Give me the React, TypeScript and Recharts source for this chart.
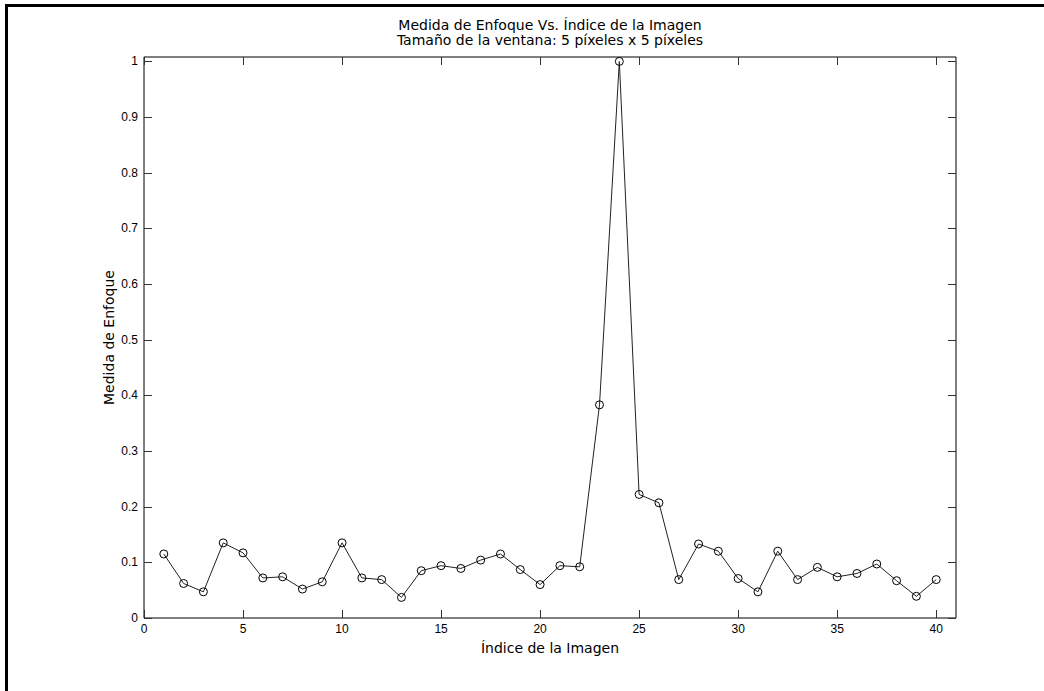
import React from "react";
import {
  LineChart,
  Line,
  XAxis,
  YAxis,
  Label,
} from "recharts";

// focus measure for each image index (window 5x5 px)
const imageIndex = [
  1, 2, 3, 4, 5, 6, 7, 8, 9, 10, 11, 12, 13, 14, 15, 16, 17, 18, 19, 20,
  21, 22, 23, 24, 25, 26, 27, 28, 29, 30, 31, 32, 33, 34, 35, 36, 37, 38, 39, 40,
];
const focusMeasure = [
  0.115, 0.062, 0.047, 0.135, 0.117, 0.072, 0.074, 0.052, 0.065, 0.135,
  0.072, 0.069, 0.037, 0.085, 0.094, 0.089, 0.104, 0.115, 0.087, 0.06,
  0.094, 0.092, 0.383, 1.0, 0.222, 0.207, 0.069, 0.133, 0.12, 0.071,
  0.047, 0.12, 0.069, 0.091, 0.074, 0.08, 0.097, 0.067, 0.039, 0.069,
];

const xTicks = [0, 5, 10, 15, 20, 25, 30, 35, 40];
const yTicks = [0, 0.1, 0.2, 0.3, 0.4, 0.5, 0.6, 0.7, 0.8, 0.9, 1];

const titleLines = [
  "Medida de Enfoque Vs. Índice de la Imagen",
  "Tamaño de la ventana: 5 píxeles x 5 píxeles",
];
const xLabel = "Índice de la Imagen";
const yLabel = "Medida de Enfoque";

const data = imageIndex.map((idx, i) => ({ idx, value: focusMeasure[i] }));

const TICK_FONT = "'Liberation Sans', Arial, sans-serif";
const TEXT_FONT = "'DejaVu Sans', Verdana, sans-serif";
const TICK_LEN = 8;
const TICK_COLOR = "#333";

// plot box edges, follow from the chart margins + axis sizes below
const BOX = { left: 144, right: 956, top: 57, bottom: 618 };

const px = (v: number) => Math.round(v) + 0.5;

// each x tick draws its mark on both the bottom and top edge, pointing inward
const XTick = (props: any) => {
  const { x, payload } = props;
  const cx = px(x);
  return (
    <g>
      <line x1={cx} y1={BOX.bottom} x2={cx} y2={BOX.bottom - TICK_LEN} stroke={TICK_COLOR} shapeRendering="crispEdges" />
      <line x1={cx} y1={BOX.top} x2={cx} y2={BOX.top + TICK_LEN} stroke={TICK_COLOR} shapeRendering="crispEdges" />
      <text x={x} y={BOX.bottom + 15} textAnchor="middle" fontSize={12} fontFamily={TICK_FONT} fill="#000">
        {payload.value}
      </text>
    </g>
  );
};

// same for y: left and right edge marks, label on the left
const YTick = (props: any) => {
  const { y, payload } = props;
  const cy = px(y);
  return (
    <g>
      <line x1={BOX.left} y1={cy} x2={BOX.left + TICK_LEN} y2={cy} stroke={TICK_COLOR} shapeRendering="crispEdges" />
      <line x1={BOX.right} y1={cy} x2={BOX.right - TICK_LEN} y2={cy} stroke={TICK_COLOR} shapeRendering="crispEdges" />
      <text x={BOX.left - 6} y={y + 4} textAnchor="end" fontSize={12} fontFamily={TICK_FONT} fill="#000">
        {payload.value}
      </text>
    </g>
  );
};

export default function App() {
  return (
    <div
      style={{
        position: "absolute",
        left: 0,
        top: 0,
        width: 1044,
        height: 691,
        background: "#fff",
        overflow: "hidden",
      }}
    >
      {/* figure frame, top and left edges */}
      <div style={{ position: "absolute", left: 5, top: 4, width: 1039, height: 3, background: "#000" }} />
      <div style={{ position: "absolute", left: 5, top: 4, width: 3, height: 687, background: "#000" }} />

      <div
        style={{
          position: "absolute",
          left: 250,
          width: 600,
          top: 18,
          textAlign: "center",
          fontFamily: TEXT_FONT,
          fontSize: 14,
          lineHeight: "15px",
          color: "#000",
        }}
      >
        {titleLines.map((t) => (
          <div key={t}>{t}</div>
        ))}
      </div>

      <LineChart
        width={1044}
        height={691}
        data={data}
        margin={{ top: 56, right: 87, left: 104, bottom: 43 }}
        style={{ position: "absolute", left: 0, top: 0 }}
      >
        <XAxis
          xAxisId="bottom"
          dataKey="idx"
          type="number"
          domain={[0, 41]}
          ticks={xTicks}
          interval={0}
          height={30}
          tickSize={0}
          tickMargin={0}
          tick={XTick}
          axisLine={{ stroke: "#000" }}
        >
          <Label
            content={(p: any) => {
              const vb = p.viewBox;
              return (
                <text
                  x={vb.x + vb.width / 2}
                  y={653}
                  textAnchor="middle"
                  fontSize={14}
                  fontFamily={TEXT_FONT}
                  fill="#000"
                >
                  {xLabel}
                </text>
              );
            }}
          />
        </XAxis>
        {/* top and right axes only close the box */}
        <XAxis
          xAxisId="top"
          orientation="top"
          dataKey="idx"
          type="number"
          domain={[0, 41]}
          height={1}
          tick={false}
          tickLine={false}
          axisLine={{ stroke: "#000" }}
        />
        <YAxis
          yAxisId="left"
          type="number"
          domain={[0, 1.008]}
          ticks={yTicks}
          interval={0}
          width={40}
          tickSize={0}
          tickMargin={0}
          tick={YTick}
          axisLine={{ stroke: "#000" }}
        >
          <Label
            content={(p: any) => {
              const vb = p.viewBox;
              const cy = vb.y + vb.height / 2;
              return (
                <text
                  x={114}
                  y={cy}
                  transform={`rotate(-90 114 ${cy})`}
                  textAnchor="middle"
                  fontSize={14}
                  fontFamily={TEXT_FONT}
                  fill="#000"
                >
                  {yLabel}
                </text>
              );
            }}
          />
        </YAxis>
        <YAxis
          yAxisId="right"
          orientation="right"
          type="number"
          domain={[0, 1.008]}
          width={1}
          tick={false}
          tickLine={false}
          axisLine={{ stroke: "#000" }}
        />
        <Line
          xAxisId="bottom"
          yAxisId="left"
          type="linear"
          dataKey="value"
          stroke="#222"
          strokeWidth={1}
          dot={{ r: 4, stroke: "#000", strokeWidth: 1, fill: "none" }}
          isAnimationActive={false}
        />
      </LineChart>
    </div>
  );
}
